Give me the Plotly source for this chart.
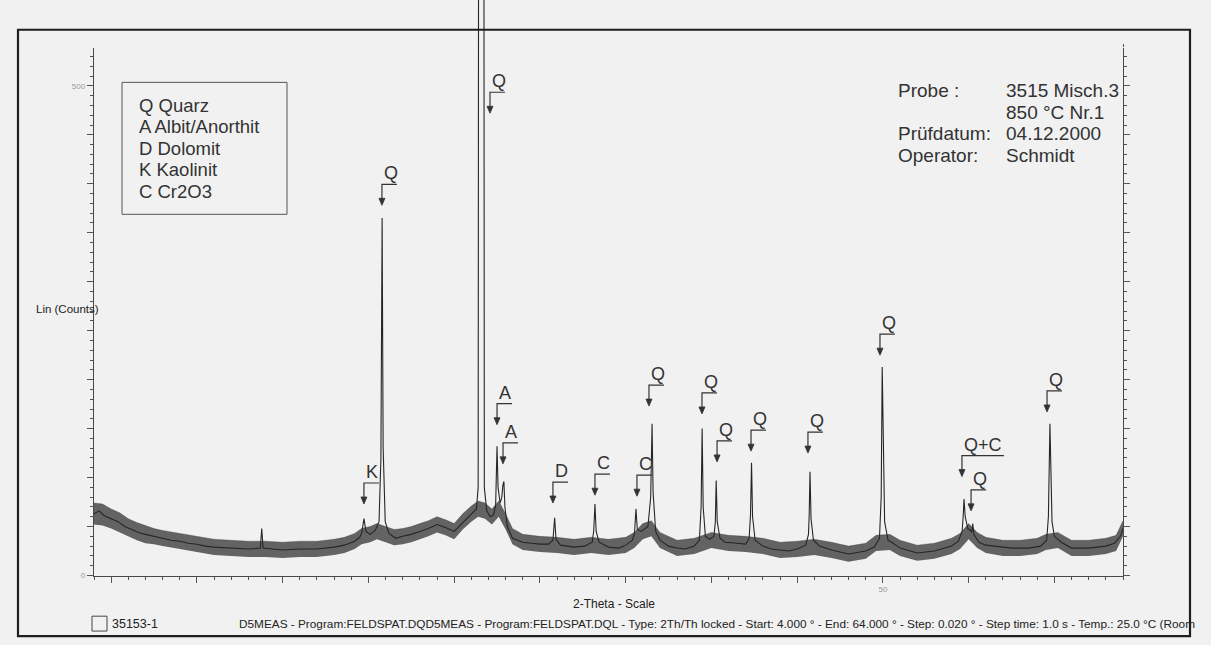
import plotly.graph_objects as go

# ---------------- data ----------------
two_theta = [4.00, 4.30, 4.60, 5.00, 5.40, 5.80, 6.20, 6.60, 7.00, 7.50, 8.00, 8.50, 9.00, 9.50,
             10.00, 10.50, 11.00, 12.00, 13.00, 13.70, 13.78, 13.86, 14.50, 15.00, 16.00, 17.00,
             18.00, 18.60, 19.20, 19.50, 19.62, 19.74, 19.86, 20.10, 20.40, 20.62, 20.73, 20.80,
             20.86, 20.98, 21.20, 21.60, 22.00, 22.50, 23.00, 23.50, 24.00, 24.50, 25.00, 25.40,
             25.80, 26.10, 26.30, 26.40, 26.43, 26.73, 26.76, 26.90, 27.10, 27.30, 27.42, 27.50,
             27.56, 27.68, 27.78, 27.84, 27.90, 27.96, 28.10, 28.40, 29.00, 29.50, 30.00, 30.50,
             30.76, 30.86, 30.94, 31.20, 32.00, 32.60, 33.05, 33.14, 33.21, 33.28, 33.45, 34.00,
             34.60, 35.00, 35.40, 35.52, 35.60, 35.68, 35.90, 36.30, 36.46, 36.54, 36.60, 36.75,
             37.00, 37.50, 38.00, 38.50, 39.00, 39.30, 39.40, 39.46, 39.52, 39.65, 39.90, 40.15,
             40.23, 40.28, 40.34, 40.50, 40.80, 41.50, 42.00, 42.20, 42.28, 42.34, 42.40, 42.55,
             43.00, 43.50, 44.00, 44.50, 45.00, 45.50, 45.66, 45.70, 45.75, 45.81, 45.95, 46.30,
             47.00, 48.00, 49.00, 49.50, 49.80, 49.90, 49.96, 50.03, 50.10, 50.30, 50.60, 51.00,
             52.00, 53.00, 54.00, 54.40, 54.62, 54.68, 54.73, 54.80, 54.95, 55.10, 55.18, 55.24,
             55.30, 55.60, 56.00, 56.50, 57.50, 58.50, 59.20, 59.55, 59.65, 59.74, 59.80, 59.86,
             60.00, 60.40, 61.00, 62.00, 63.00, 63.50, 63.85, 64.00]
counts = [63, 66, 61, 58, 55, 50, 47, 44, 42, 40, 38, 36, 35, 33,
          32, 30, 29, 28, 27, 28, 48, 28, 27, 26, 27, 27,
          29, 31, 35, 39, 44, 58, 45, 42, 46, 55, 120, 365,
          130, 55, 43, 38, 40, 42, 45, 48, 52, 49, 45, 52,
          59, 64, 68, 90, 800, 800, 90, 66, 60, 62, 72, 132,
          90, 74, 80, 92, 96, 70, 50, 38, 34, 33, 32, 32,
          36, 59, 37, 31, 29, 30, 34, 46, 73, 45, 34, 29,
          28, 31, 36, 44, 68, 47, 45, 50, 80, 155, 85, 45,
          36, 30, 28, 27, 30, 36, 70, 150, 70, 40, 37, 40,
          55, 97, 55, 38, 34, 33, 32, 38, 62, 115, 60, 36,
          30, 27, 26, 25, 27, 31, 42, 60, 106, 58, 36, 30,
          26, 22, 25, 29, 38, 80, 213, 120, 55, 36, 33, 28,
          23, 25, 30, 35, 45, 60, 78, 60, 48, 46, 44, 53,
          42, 34, 31, 30, 28, 28, 30, 36, 60, 155, 100, 55,
          40, 34, 28, 28, 30, 33, 40, 48]

# extent of the noisy band of the scan
band_x = [4, 4.5, 5, 5.5, 6, 6.5, 7, 7.5, 8, 9, 10, 11, 12, 13, 14, 15, 16, 17, 18, 18.6,
          19.2, 19.6, 20.1, 20.5, 21.0, 21.5, 22, 22.5, 23, 23.5, 24, 24.5, 25, 25.5, 26, 26.4,
          26.8, 27.2, 27.6, 28.0, 28.4, 29, 30, 31, 32, 33, 34, 35, 35.5, 36, 36.5, 37, 38, 39,
          40, 41, 42, 43, 44, 45, 46, 47, 48, 49, 49.6, 50.4, 51, 52, 53, 54, 54.5, 55, 55.5,
          56, 57, 58, 59, 59.5, 60.2, 61, 62, 63, 63.6, 64]
band_hi = [74, 73, 68, 64, 58, 54, 51, 48, 46, 43, 40, 37, 36, 35, 35, 34, 35, 35, 37, 39,
           43, 48, 50, 53, 50, 47, 48, 50, 53, 56, 60, 57, 53, 63, 71, 76,
           74, 68, 76, 63, 48, 42, 40, 39, 37, 39, 37, 39, 44, 53, 56, 44, 36, 38,
           44, 41, 40, 38, 34, 35, 37, 34, 30, 33, 41, 42, 36, 31, 33, 38, 43, 53, 44,
           39, 36, 36, 38, 42, 44, 36, 36, 38, 41, 56]
band_lo = [52, 51, 48, 44, 40, 36, 33, 32, 30, 27, 24, 21, 20, 19, 19, 18, 19, 19, 21, 23,
           27, 32, 34, 37, 34, 31, 32, 34, 37, 40, 44, 41, 37, 47, 55, 60,
           58, 52, 60, 47, 32, 26, 24, 23, 21, 23, 21, 23, 28, 37, 40, 28, 20, 22,
           28, 25, 24, 22, 18, 19, 21, 18, 14, 17, 25, 26, 20, 15, 17, 22, 27, 37, 28,
           23, 20, 20, 22, 26, 28, 20, 20, 22, 25, 40]

# phase labels: text, 2-theta of the arrow, counts at the arrow tip
label_text = ["K", "Q", "Q", "A", "A", "D", "C", "C", "Q", "Q", "Q", "Q", "Q", "Q", "Q+C", "Q", "Q"]
label_x = [19.74, 20.79, 27.09, 27.50, 27.85, 30.76, 33.21, 35.66, 36.36, 39.45, 40.33,
           42.31, 45.63, 49.83, 54.61, 55.14, 59.57]
label_tip = [73, 378, 472, 154, 114, 74, 82, 81, 173, 165, 116, 127, 125, 225, 101, 66, 167]

legend_codes = ["Q", "A", "D", "K", "C"]
legend_names = ["Quarz", "Albit/Anorthit", "Dolomit", "Kaolinit", "Cr2O3"]

info_keys = ["Probe :", "", "Prüfdatum:", "Operator:"]
info_vals = ["3515 Misch.3", "850 °C Nr.1", "04.12.2000", "Schmidt"]

x_range = [4, 64]
y_range = [0, 538]
x_tick_vals = [5, 10, 15, 20, 25, 30, 35, 40, 45, 50, 55, 60]
x_tick_text = ["", "", "", "", "", "", "", "", "", "50", "", ""]
y_tick_vals = [0, 50, 100, 150, 200, 250, 300, 350, 400, 450, 500]
y_tick_text = ["0", "", "", "", "", "", "", "", "", "", "500"]

footer = ("D5MEAS - Program:FELDSPAT.DQD5MEAS - Program:FELDSPAT.DQL - Type: 2Th/Th locked - "
          "Start: 4.000 ° - End: 64.000 ° - Step: 0.020 ° - Step time: 1.0 s - Temp.: 25.0 °C (Room")

# ---------------- layout constants (pixels) ----------------
W, H = 1211, 645
PL, PR, PT, PB = 94, 1123, 49, 580
FONT = "Liberation Sans, Arial, sans-serif"
INK = "#262626"


def fx(p):
    return p / W


def fy(p):
    return 1 - p / H


fig = go.Figure()

# data drawn on a taller, invisible subplot so the off-scale peak runs past the frame
y2_top = y_range[1] * PB / (PB - PT)

fig.add_trace(go.Scatter(x=band_x, y=band_lo, xaxis="x2", yaxis="y2", mode="lines",
                         line=dict(width=0, color="rgba(0,0,0,0)"), hoverinfo="skip",
                         showlegend=False))
fig.add_trace(go.Scatter(x=band_x, y=band_hi, xaxis="x2", yaxis="y2", mode="lines",
                         fill="tonexty", fillcolor="rgba(45,45,45,0.72)",
                         line=dict(width=0.6, color="rgba(45,45,45,0.5)"), hoverinfo="skip",
                         showlegend=False))
fig.add_trace(go.Scatter(x=two_theta, y=counts, xaxis="x2", yaxis="y2", mode="lines",
                         line=dict(width=1.1, color=INK), showlegend=False))

shapes = []
annotations = []

# outer frame
shapes.append(dict(type="rect", xref="paper", yref="paper", x0=fx(18), x1=fx(1190),
                   y0=fy(641), y1=fy(30), line=dict(color="#1e1e1e", width=2.2)))
# legend box
shapes.append(dict(type="rect", xref="paper", yref="paper", x0=fx(122), x1=fx(287),
                   y0=fy(216), y1=fy(83), line=dict(color="#555", width=1)))
# instrument icon
shapes.append(dict(type="rect", xref="paper", yref="paper", x0=fx(92), x1=fx(107),
                   y0=fy(636), y1=fy(621), line=dict(color="#444", width=1)))

for code, name, row in zip(legend_codes, legend_names, range(len(legend_codes))):
    annotations.append(dict(xref="paper", yref="paper", x=fx(137), y=fy(106 + 21.7 * row),
                            xanchor="left", yanchor="middle", showarrow=False,
                            text=f"{code} {name}", font=dict(family=FONT, size=18.5, color="#333")))

for row, (k, v) in enumerate(zip(info_keys, info_vals)):
    yy = fy(91 + 22 * row)
    if k:
        annotations.append(dict(xref="paper", yref="paper", x=fx(896), y=yy, xanchor="left",
                                yanchor="middle", showarrow=False, text=k,
                                font=dict(family=FONT, size=19, color="#333")))
    annotations.append(dict(xref="paper", yref="paper", x=fx(1004), y=yy, xanchor="left",
                            yanchor="middle", showarrow=False, text=v,
                            font=dict(family=FONT, size=19, color="#333")))

# peak labels with bracket arrows
for txt, lx, lt in zip(label_text, label_x, label_tip):
    bar = 15 if len(txt) == 1 else 42
    shapes.append(dict(type="path", xref="x", yref="y", xsizemode="pixel", ysizemode="pixel",
                       xanchor=lx, yanchor=lt, path=f"M0,2 L0,21 L{bar},21",
                       line=dict(color="#333", width=1.2)))
    shapes.append(dict(type="path", xref="x", yref="y", xsizemode="pixel", ysizemode="pixel",
                       xanchor=lx, yanchor=lt, path="M-3,7 L0,0 L3,7 Z",
                       fillcolor="#333", line=dict(color="#333", width=0.8)))
    annotations.append(dict(xref="x", yref="y", x=lx, y=lt, xanchor="left", yanchor="bottom",
                            xshift=0, yshift=20, showarrow=False, text=txt,
                            font=dict(family=FONT, size=18, color="#333")))

annotations.append(dict(xref="paper", yref="paper", x=fx(34), y=fy(311), xanchor="left",
                        yanchor="middle", showarrow=False, text="Lin (Counts)",
                        font=dict(family=FONT, size=11.5, color="#222")))
annotations.append(dict(xref="paper", yref="paper", x=fx(614), y=fy(609), xanchor="center",
                        yanchor="middle", showarrow=False, text="2-Theta - Scale",
                        font=dict(family=FONT, size=12, color="#222")))
annotations.append(dict(xref="paper", yref="paper", x=fx(110), y=fy(629), xanchor="left",
                        yanchor="middle", showarrow=False, text="35153-1",
                        font=dict(family=FONT, size=12.5, color="#222")))
annotations.append(dict(xref="paper", yref="paper", x=fx(237), y=fy(629), xanchor="left",
                        yanchor="middle", showarrow=False, text=footer,
                        font=dict(family=FONT, size=11.8, color="#222")))

axis_common = dict(showgrid=False, zeroline=False, showline=True, linecolor="#4a4a4a",
                   linewidth=1.4, mirror="ticks", ticks="outside", tickcolor="#555",
                   tickwidth=1, ticklen=6,
                   tickfont=dict(family=FONT, size=8, color="#999"))

fig.update_layout(
    width=W, height=H,
    margin=dict(l=0, r=0, t=0, b=0),
    paper_bgcolor="#f1f1f1", plot_bgcolor="#f1f1f1",
    showlegend=False,
    xaxis=dict(domain=[fx(PL), fx(PR)], range=x_range, anchor="y",
               tickmode="array", tickvals=x_tick_vals, ticktext=x_tick_text,
               minor=dict(tickmode="linear", tick0=4, dtick=1, ticklen=3, ticks="outside",
                          tickcolor="#555"),
               **axis_common),
    yaxis=dict(domain=[fy(PB), fy(PT)], range=y_range, anchor="x",
               tickmode="array", tickvals=y_tick_vals, ticktext=y_tick_text,
               minor=dict(tickmode="linear", tick0=0, dtick=10, ticklen=3, ticks="outside",
                          tickcolor="#555"),
               **axis_common),
    xaxis2=dict(domain=[fx(PL), fx(PR)], range=x_range, anchor="y2", visible=False),
    yaxis2=dict(domain=[fy(PB), 1.0], range=[0, y2_top], anchor="x2", visible=False),
    shapes=shapes,
    annotations=annotations,
)

fig.write_html("out.html")
